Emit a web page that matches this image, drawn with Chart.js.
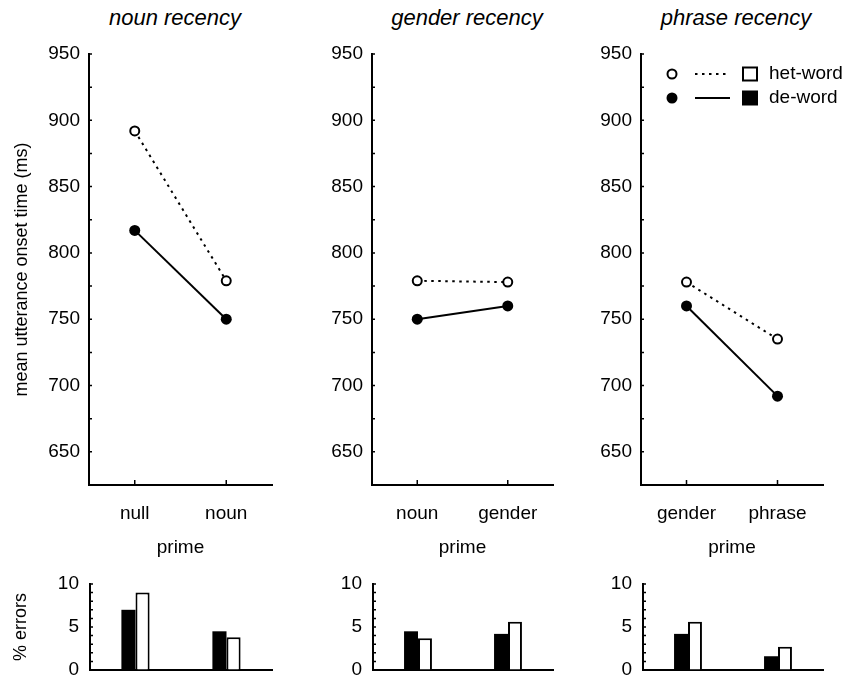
<!DOCTYPE html>
<html>
<head>
  <meta charset="UTF-8">
  <title>Utterance onset times and errors</title>
  <script src="https://cdn.jsdelivr.net/npm/chart.js"></script>
  <style>
    body {
      margin: 0;
      background: #fff;
      width: 849px;
      height: 680px;
      position: relative;
      overflow: hidden;
      font-family: "Liberation Sans", Arial, sans-serif;
    }
    .box { position: absolute; }
    .ptitle {
      position: absolute;
      top: 5px;
      font-size: 22px;
      line-height: 26px;
      font-style: italic;
      color: #000;
      white-space: nowrap;
      transform: translateX(-50%);
    }
  </style>
</head>
<body>
  <div class="ptitle" style="left:175px">noun recency</div>
  <div class="ptitle" style="left:467px">gender recency</div>
  <div class="ptitle" style="left:736px">phrase recency</div>

  <script>
    // values
    const primeLabels = [["null", "noun"], ["noun", "gender"], ["gender", "phrase"]];
    const hetOnset = [[892, 779], [779, 778], [778, 735]];
    const deOnset = [[817, 750], [750, 760], [760, 692]];
    const hetErrors = [[9.0, 3.8], [3.7, 5.6], [5.6, 2.7]];
    const deErrors = [[7.0, 4.5], [4.5, 4.2], [4.2, 1.6]];

    const FONT = '"Liberation Sans", Arial, sans-serif';
    Chart.defaults.font.family = FONT;
    Chart.defaults.color = '#000';

    // where each panel sits on the page
    const panels = [
      { left: 0, width: 290, axisW: 89, padR: 18, barAxisW: 90, barPadR: 18 },
      { left: 290, width: 280, axisW: 82, padR: 17, barAxisW: 83, barPadR: 17 },
      { left: 570, width: 279, axisW: 71, padR: 26, barAxisW: 73, barPadR: 26 }
    ];

    // small tick marks drawn on the inside of the axes
    const innerTicks = {
      id: 'innerTicks',
      afterDraw(chart, args, opts) {
        const ctx = chart.ctx;
        const a = chart.chartArea;
        const xs = chart.scales.x, ys = chart.scales.y;
        ctx.save();
        ctx.strokeStyle = '#000';
        ctx.lineWidth = 1.5;
        ctx.beginPath();
        if (opts.xTicks) {
          xs.ticks.forEach((t, i) => {
            const px = xs.getPixelForTick(i);
            ctx.moveTo(px, a.bottom);
            ctx.lineTo(px, a.bottom - 5);
          });
        }
        ys.ticks.forEach((t, i) => {
          const py = ys.getPixelForTick(i);
          ctx.moveTo(a.left, py);
          ctx.lineTo(a.left + 3, py);
        });
        ctx.stroke();
        ctx.restore();
      }
    };

    // legend in the third panel: marker, line style, bar swatch, label
    const keyLegend = {
      id: 'keyLegend',
      afterDraw(chart, args, opts) {
        if (!opts.show) return;
        const ctx = chart.ctx;
        const a = chart.chartArea;
        const rows = [
          { text: 'het-word', filled: false, dy: 20 },
          { text: 'de-word', filled: true, dy: 44 }
        ];
        ctx.save();
        ctx.strokeStyle = '#000';
        ctx.fillStyle = '#000';
        rows.forEach(r => {
          const y = a.top + r.dy;
          // marker
          ctx.beginPath();
          ctx.lineWidth = 2;
          ctx.arc(a.left + 31, y, r.filled ? 5.5 : 4.5, 0, Math.PI * 2);
          if (r.filled) ctx.fill(); else ctx.stroke();
          // line sample
          ctx.beginPath();
          ctx.setLineDash(r.filled ? [] : [2.5, 4.5]);
          ctx.moveTo(a.left + 54, y);
          ctx.lineTo(a.left + 89, y);
          ctx.stroke();
          ctx.setLineDash([]);
          // bar swatch
          if (r.filled) {
            ctx.fillRect(a.left + 101, y - 7.5, 16, 15);
          } else {
            ctx.strokeRect(a.left + 102, y - 6.5, 14, 13);
          }
          ctx.font = '19px ' + FONT;
          ctx.textBaseline = 'middle';
          ctx.fillText(r.text, a.left + 128, y);
        });
        ctx.restore();
      }
    };

    function addCanvas(left, top, w, h) {
      const div = document.createElement('div');
      div.className = 'box';
      div.style.left = left + 'px';
      div.style.top = top + 'px';
      const c = document.createElement('canvas');
      c.width = w;
      c.height = h;
      div.appendChild(c);
      document.body.appendChild(div);
      return c;
    }

    panels.forEach((p, i) => {
      // onset time line chart
      const lc = addCanvas(p.left, 0, p.width, 570);
      new Chart(lc, {
        type: 'line',
        data: {
          labels: primeLabels[i],
          datasets: [
            {
              label: 'het-word',
              data: hetOnset[i],
              borderColor: '#000',
              borderWidth: 2,
              borderDash: [2.5, 4.5],
              pointRadius: 4.5,
              pointBorderWidth: 2,
              pointBackgroundColor: '#fff',
              pointBorderColor: '#000'
            },
            {
              label: 'de-word',
              data: deOnset[i],
              borderColor: '#000',
              borderWidth: 2,
              pointRadius: 5.5,
              pointBorderWidth: 0,
              pointBackgroundColor: '#000',
              pointBorderColor: '#000'
            }
          ]
        },
        options: {
          responsive: false,
          animation: false,
          layout: { padding: { top: 54, right: p.padR, left: 0, bottom: 0 } },
          plugins: {
            legend: { display: false },
            tooltip: { enabled: false },
            innerTicks: { xTicks: true },
            keyLegend: { show: i === 2 }
          },
          scales: {
            x: {
              offset: true,
              grid: { drawOnChartArea: false, drawTicks: false },
              border: { color: '#000', width: 2 },
              ticks: { padding: 17, font: { size: 19 }, color: '#000' },
              title: {
                display: true, text: 'prime', color: '#000',
                font: { size: 19 }, padding: { top: 0, bottom: 11 }
              },
              afterFit: s => { s.height = 85; }
            },
            y: {
              min: 625,
              max: 950,
              grid: { drawOnChartArea: false, drawTicks: false },
              border: { color: '#000', width: 2 },
              ticks: {
                stepSize: 25, autoSkip: false, padding: 9,
                font: { size: 19 }, color: '#000',
                callback: v => (v % 50 === 0 ? v : '')
              },
              title: {
                display: i === 0, text: 'mean utterance onset time (ms)',
                color: '#000', font: { size: 18 }, padding: { top: 11, bottom: 0 }
              },
              afterFit: s => { s.width = p.axisW; }
            }
          }
        },
        plugins: [innerTicks, keyLegend]
      });

      // error percentage bar chart
      const bc = addCanvas(p.left, 550, p.width, 144);
      new Chart(bc, {
        type: 'bar',
        data: {
          labels: primeLabels[i],
          datasets: [
            {
              label: 'de-word',
              data: deErrors[i],
              backgroundColor: '#000',
              borderColor: '#000',
              borderWidth: 0,
              categoryPercentage: 0.31,
              barPercentage: 1.0
            },
            {
              label: 'het-word',
              data: hetErrors[i],
              backgroundColor: '#fff',
              borderColor: '#000',
              borderWidth: 2,
              borderSkipped: 'bottom',
              categoryPercentage: 0.31,
              barPercentage: 1.0
            }
          ]
        },
        options: {
          responsive: false,
          animation: false,
          layout: { padding: { top: 34, right: p.barPadR, left: 0, bottom: 0 } },
          plugins: {
            legend: { display: false },
            tooltip: { enabled: false },
            innerTicks: { xTicks: false }
          },
          scales: {
            x: {
              grid: { drawOnChartArea: false, drawTicks: false },
              border: { color: '#000', width: 2 },
              ticks: { display: false },
              afterFit: s => { s.height = 24; }
            },
            y: {
              min: 0,
              max: 10,
              grid: { drawOnChartArea: false, drawTicks: false },
              border: { color: '#000', width: 2 },
              ticks: {
                stepSize: 1, autoSkip: false, padding: 11,
                font: { size: 19 }, color: '#000',
                callback: v => (v % 5 === 0 ? v : '')
              },
              title: {
                display: i === 0, text: '% errors',
                color: '#000', font: { size: 18 }, padding: { top: 10, bottom: 0 }
              },
              afterFit: s => { s.width = p.barAxisW; }
            }
          }
        },
        plugins: [innerTicks]
      });
    });
  </script>
</body>
</html>
